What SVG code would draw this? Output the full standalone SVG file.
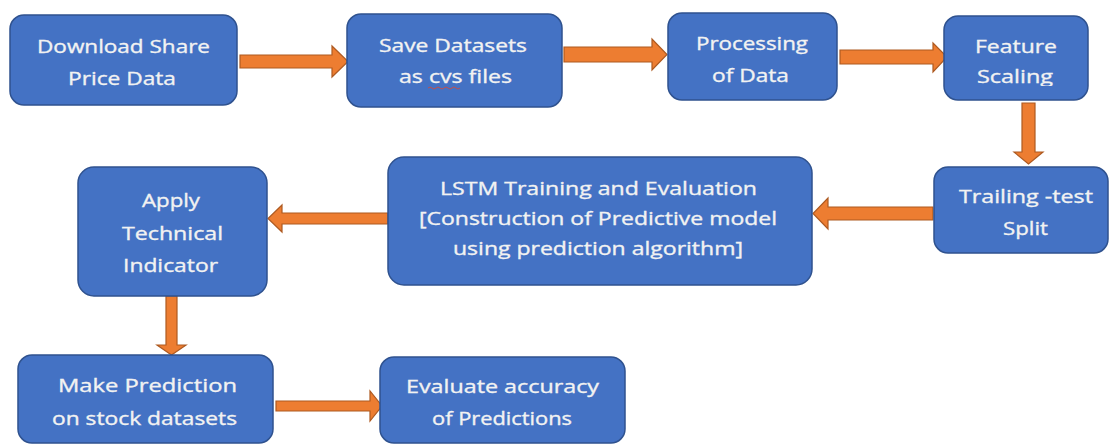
<svg xmlns="http://www.w3.org/2000/svg" width="1110" height="446" viewBox="0 0 1110 446">
<style>
.box{fill:#4472C4;stroke:#2F528F;stroke-width:1.5}
.t{fill:#F2F2F2;stroke:#F2F2F2;stroke-width:0.35;font-family:"Open Sans",Lato,"Liberation Sans",sans-serif;font-size:18.5px;text-anchor:middle}
.arr{fill:#ED7D31;stroke:#AE5A21;stroke-width:1.2;stroke-linejoin:miter}
</style>
<defs>
<clipPath id="clipFS"><rect x="944" y="16" width="144" height="70"/></clipPath>
</defs>
<rect width="1110" height="446" fill="#FFFFFF"/>
<g id="connectors">
<polygon class="arr" points="240,55 332,55 332,46 348,61.5 332,77 332,68 240,68"/>
<polygon class="arr" points="564,47 652,47 652,39 667,54.5 652,70 652,62 564,62"/>
<polygon class="arr" points="840,50 933,50 933,43 947,57 933,72 933,64 840,64"/>
<polygon class="arr" points="1022,103 1035,103 1035,152 1043,152 1028.5,164 1014,152 1022,152"/>
<polygon class="arr" points="933,207 828,207 828,198 813,213.5 828,229 828,220 933,220"/>
<polygon class="arr" points="388,213 282,213 282,205 268,218.5 282,232 282,224 388,224"/>
<polygon class="arr" points="166,296 177,296 177,345 186,345 171.5,355 157,345 166,345"/>
<polygon class="arr" points="276,401 370,401 370,391 382,406 370,421 370,411 276,411"/>
</g>
<g id="n1">
<rect class="box" x="10" y="15" width="227" height="90" rx="14"/>
<text class="t" x="123.5" y="53" textLength="173" lengthAdjust="spacingAndGlyphs">Download Share</text>
<text class="t" x="122" y="85" textLength="108" lengthAdjust="spacingAndGlyphs">Price Data</text>
</g>
<g id="n2">
<rect class="box" x="347" y="14" width="215" height="93" rx="14"/>
<text class="t" x="453" y="52" textLength="148" lengthAdjust="spacingAndGlyphs">Save Datasets</text>
<text class="t" x="455.5" y="83" textLength="113" lengthAdjust="spacingAndGlyphs">as cvs files</text>
<path d="M428,88 q2,-2 4,0 t4,0 t4,0 t4,0 t4,0 t4,0 t4,0 t4,0" fill="none" stroke="#C0504D" stroke-width="1"/>
</g>
<g id="n3">
<rect class="box" x="668" y="13" width="169" height="87" rx="14"/>
<text class="t" x="752" y="50" textLength="112" lengthAdjust="spacingAndGlyphs">Processing</text>
<text class="t" x="750.5" y="82" textLength="77" lengthAdjust="spacingAndGlyphs">of Data</text>
</g>
<g id="n4">
<rect class="box" x="944" y="16" width="144" height="84" rx="14"/>
<text class="t" x="1016" y="53" textLength="82" lengthAdjust="spacingAndGlyphs">Feature</text>
<text class="t" x="1015" y="83" textLength="76" lengthAdjust="spacingAndGlyphs" clip-path="url(#clipFS)">Scaling</text>
</g>
<g id="n5">
<rect class="box" x="934" y="167" width="174" height="86" rx="14"/>
<text class="t" x="1026" y="203" textLength="134" lengthAdjust="spacingAndGlyphs">Trailing -test</text>
<text class="t" x="1025.5" y="235" textLength="45" lengthAdjust="spacingAndGlyphs">Split</text>
</g>
<g id="n6">
<rect class="box" x="388" y="157" width="424" height="128" rx="16"/>
<text class="t" x="598.5" y="195" textLength="317" lengthAdjust="spacingAndGlyphs">LSTM Training and Evaluation</text>
<text class="t" x="598" y="225" textLength="358" lengthAdjust="spacingAndGlyphs">[Construction of Predictive model</text>
<text class="t" x="598" y="255" textLength="290" lengthAdjust="spacingAndGlyphs">using prediction algorithm]</text>
</g>
<g id="n7">
<rect class="box" x="78" y="167" width="189" height="129" rx="16"/>
<text class="t" x="171" y="207" textLength="58" lengthAdjust="spacingAndGlyphs">Apply</text>
<text class="t" x="172.5" y="240" textLength="101" lengthAdjust="spacingAndGlyphs">Technical</text>
<text class="t" x="170.5" y="272" textLength="95" lengthAdjust="spacingAndGlyphs">Indicator</text>
</g>
<g id="n8">
<rect class="box" x="18" y="355" width="255" height="88" rx="14"/>
<text class="t" x="147.5" y="392" textLength="179" lengthAdjust="spacingAndGlyphs">Make Prediction</text>
<text class="t" x="144.5" y="425" textLength="185" lengthAdjust="spacingAndGlyphs">on stock datasets</text>
</g>
<g id="n9">
<rect class="box" x="380" y="357" width="245" height="86" rx="14"/>
<text class="t" x="502.5" y="393" textLength="193" lengthAdjust="spacingAndGlyphs">Evaluate accuracy</text>
<text class="t" x="502" y="425" textLength="140" lengthAdjust="spacingAndGlyphs">of Predictions</text>
</g>
</svg>
